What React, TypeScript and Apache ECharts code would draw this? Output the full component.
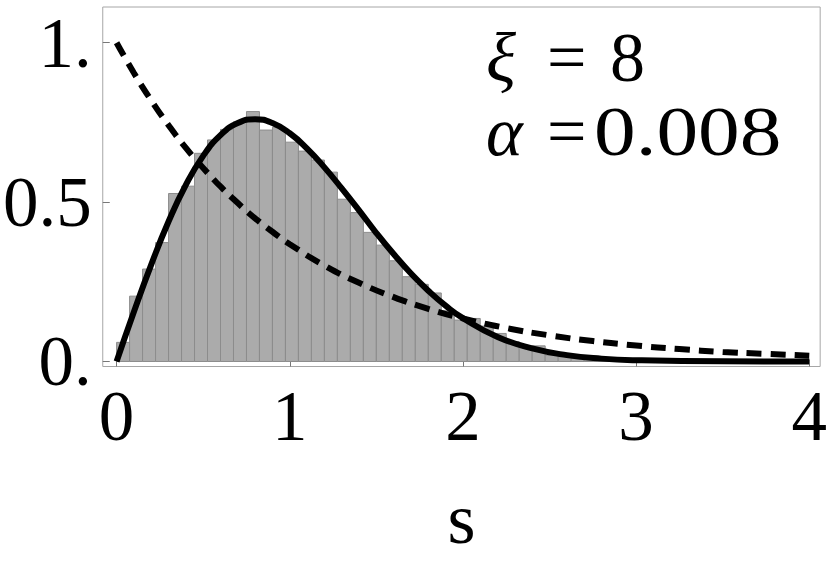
import { useEffect, useRef } from "react";
import * as echarts from "echarts";

// ---- data ----
const BIN_START = 0;
const BIN_WIDTH = 0.075;
const binHeights = [
  0.06, 0.205, 0.29, 0.373, 0.527, 0.55, 0.653, 0.695, 0.728, 0.752, 0.784,
  0.726, 0.735, 0.688, 0.66, 0.632, 0.594, 0.509, 0.467, 0.405, 0.365, 0.316,
  0.266, 0.242, 0.215, 0.159, 0.13, 0.135, 0.111, 0.088, 0.062, 0.046, 0.049,
  0.02, 0.015, 0.01, 0.008, 0.006, 0.005, 0.004, 0.003, 0.002,
];

const solidS = [
  0, 0.1, 0.2, 0.3, 0.4, 0.5, 0.6, 0.7, 0.8, 0.9, 1.0, 1.1, 1.2, 1.3, 1.4, 1.5,
  1.6, 1.7, 1.8, 1.9, 2.0, 2.2, 2.4, 2.6, 2.8, 3.0, 3.5, 4.0,
];
const solidP = [
  0, 0.156, 0.304, 0.439, 0.554, 0.645, 0.71, 0.748, 0.76, 0.748, 0.716,
  0.668, 0.609, 0.543, 0.474, 0.403, 0.337, 0.276, 0.222, 0.175, 0.136, 0.077,
  0.041, 0.02, 0.009, 0.004, 0.0004, 0,
];

const dashedS = [
  0, 0.1, 0.2, 0.3, 0.4, 0.5, 0.6, 0.7, 0.8, 0.9, 1.0, 1.2, 1.4, 1.6, 1.8, 2.0,
  2.25, 2.5, 2.75, 3.0, 3.25, 3.5, 3.75, 4.0,
];
const dashedP = [
  1.0, 0.905, 0.819, 0.741, 0.67, 0.607, 0.549, 0.497, 0.449, 0.407, 0.368,
  0.301, 0.247, 0.202, 0.165, 0.135, 0.105, 0.082, 0.064, 0.05, 0.039, 0.03,
  0.024, 0.018,
];

const xTicks = [0, 1, 2, 3, 4];
const xTickLabels = ["0", "1", "2", "3", "4"];
const yTicks = [0, 0.5, 1];
const yTickLabels = ["0.", "0.5", "1."];
const xName = "s";
const annoSymbols = ["ξ", "α"];
const annoValues = ["8", "0.008"];

const FONT = "'Liberation Serif', 'Times New Roman', serif";

export default function App() {
  const ref = useRef<HTMLDivElement>(null);

  useEffect(() => {
    if (!ref.current) return;
    const chart = echarts.init(ref.current, null, { renderer: "svg" });

    const histData = binHeights.map((h, i) => [
      BIN_START + i * BIN_WIDTH,
      BIN_START + (i + 1) * BIN_WIDTH,
      h,
    ]);

    const rowY = [57, 131];
    const textStyle = (text: string, italic: boolean) => ({
      text,
      fontFamily: FONT,
      fontSize: 70,
      fontStyle: italic ? "italic" : "normal",
      fill: "#000",
      verticalAlign: "middle",
      align: "left",
    });
    const graphic: any[] = [];
    annoSymbols.forEach((sym, i) => {
      graphic.push({
        type: "text",
        x: 486,
        y: rowY[i],
        style: textStyle(sym, true),
      });
      graphic.push({
        type: "text",
        x: 547,
        y: rowY[i],
        style: textStyle("=", false),
      });
      graphic.push({
        type: "text",
        x: i === 0 ? 610 : 594,
        y: rowY[i],
        scaleX: i === 0 ? 1 : 1.19,
        style: textStyle(annoValues[i], false),
      });
    });

    chart.setOption({
      animation: false,
      backgroundColor: "#fff",
      grid: {
        left: 102,
        top: 7,
        width: 724,
        height: 359.5,
        show: true,
        borderColor: "#a6a6a6",
        borderWidth: 1,
        backgroundColor: "transparent",
      },
      xAxis: {
        type: "value",
        min: -0.08,
        max: 4.063,
        name: xName,
        nameLocation: "middle",
        nameGap: 116,
        nameTextStyle: { fontFamily: FONT, fontSize: 72, color: "#000" },
        axisLine: { show: false, onZero: false },
        splitLine: { show: false },
        axisTick: {
          show: true,
          inside: true,
          length: 7,
          customValues: xTicks,
          lineStyle: { color: "#777", width: 1 },
        },
        axisLabel: {
          customValues: xTicks,
          formatter: (v: number) => xTickLabels[xTicks.indexOf(v)] ?? "",
          fontFamily: FONT,
          fontSize: 71,
          color: "#000",
          margin: 14,
        },
      },
      yAxis: {
        type: "value",
        min: -0.0157,
        max: 1.112,
        axisLine: { show: false, onZero: false },
        splitLine: { show: false },
        axisTick: {
          show: true,
          inside: true,
          length: 7,
          customValues: yTicks,
          lineStyle: { color: "#777", width: 1 },
        },
        axisLabel: {
          customValues: yTicks,
          formatter: (v: number) => yTickLabels[yTicks.indexOf(v)] ?? "",
          fontFamily: FONT,
          fontSize: 71,
          color: "#000",
          margin: 11,
          padding: [0, 0, 8, 0],
        },
      },
      graphic,
      series: [
        {
          type: "custom",
          clip: true,
          encode: { x: [0, 1], y: 2 },
          data: histData,
          renderItem: (_params: any, api: any) => {
            const x0 = api.value(0);
            const x1 = api.value(1);
            const h = api.value(2);
            const p0 = api.coord([x0, h]);
            const p1 = api.coord([x1, 0]);
            return {
              type: "rect",
              shape: {
                x: p0[0],
                y: p0[1],
                width: p1[0] - p0[0],
                height: p1[1] - p0[1],
              },
              style: { fill: "#ababab", stroke: "#8c8c8c", lineWidth: 1 },
            };
          },
        },
        {
          type: "line",
          data: dashedS.map((s, i) => [s, dashedP[i]]),
          showSymbol: false,
          smooth: true,
          lineStyle: { color: "#000", width: 6, type: [15, 9] },
          z: 3,
        },
        {
          type: "line",
          data: solidS.map((s, i) => [s, solidP[i]]),
          showSymbol: false,
          smooth: true,
          lineStyle: { color: "#000", width: 6 },
          z: 4,
        },
      ],
    });

    return () => chart.dispose();
  }, []);

  return (
    <div
      ref={ref}
      style={{ position: "fixed", left: 0, top: 0, width: 830, height: 562 }}
    />
  );
}
